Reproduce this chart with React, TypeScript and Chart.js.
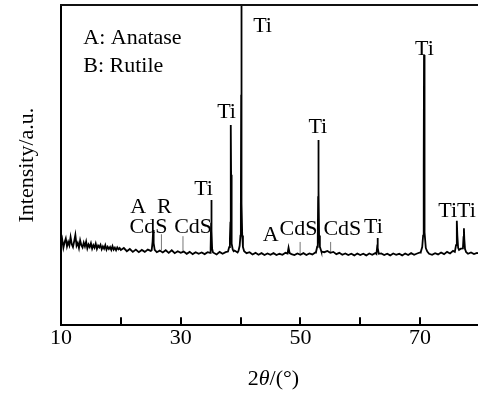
import React, { useEffect, useRef } from "react";
import { Chart, registerables } from "chart.js";

Chart.register(...registerables);

const FONT = '"Liberation Serif", "Times New Roman", serif';

// noisy start of the scan, one value every 0.2 degree from 10 to 20 degrees
const START_A = 10;
const STEP_A = 0.2;
const scanStart = [
  25.0, 26.8, 24.2, 25.9, 27.1, 24.6, 26.0, 24.9, 27.5, 25.3,
  24.4, 26.2, 28.2, 24.8, 25.7, 24.1, 26.5, 25.0, 24.3, 25.8,
  24.6, 26.1, 24.0, 25.2, 24.4, 25.6, 23.9, 25.0, 24.2, 25.5,
  23.8, 24.9, 24.3, 25.1, 23.7, 24.6, 23.9, 25.0, 23.6, 24.5,
  23.8, 24.4, 23.5, 24.7, 23.6, 24.2, 23.4, 24.3, 23.7, 24.1,
  23.5,
];

// rest of the scan baseline, one value every 0.5 degree from 20.5 to 80 degrees
const START_B = 20.5;
const STEP_B = 0.5;
const scanRest = [
  24.1, 23.1, 23.8, 22.9, 23.6, 22.8, 23.5, 22.9, 23.6,
  23.2, 23.4, 22.8, 23.3, 22.7, 23.4, 22.6, 23.4, 22.5, 23.1,
  22.6, 23.0, 22.3, 22.9, 22.2, 22.8, 22.3, 22.7, 22.2, 22.8,
  22.5, 22.7, 22.1, 22.9, 22.3, 22.8, 23.0, 23.2, 23.3, 22.7,
  23.0, 23.1, 22.5, 22.8, 22.1, 22.6, 22.0, 22.5, 21.9, 22.4,
  22.0, 22.5, 21.9, 22.3, 22.0, 22.6, 22.4, 22.2, 21.9, 22.4,
  22.0, 22.5, 21.9, 22.4, 22.1, 22.7, 22.9, 23.0, 22.8, 23.2,
  22.6, 22.9, 22.2, 22.6, 22.0, 22.4, 21.9, 22.3, 21.8, 22.4,
  21.9, 22.3, 21.8, 22.4, 22.0, 22.5, 22.3, 22.4, 21.9, 22.3,
  21.8, 22.4, 22.0, 22.3, 21.8, 22.4, 21.9, 22.5, 22.0, 22.4,
  22.7, 22.9, 22.8, 22.3, 22.0, 22.5, 22.1, 22.7, 22.2, 22.9,
  22.4, 23.2, 22.8, 22.9, 22.7, 22.8, 22.3, 22.7, 22.2, 22.6,
  22.3,
];

// diffraction peaks: [2theta, intensity]
const anatasePeak = [[25.15, 23.4], [25.3, 26.0], [25.4, 29.7], [25.48, 25.6], [25.65, 23.5]];
const ti35Peak = [[34.9, 22.6], [35.0, 24.2], [35.08, 32.0], [35.12, 39.1], [35.17, 29.5], [35.25, 23.9], [35.4, 22.7]];
const ti38Peak = [[37.9, 23.0], [38.1, 24.4], [38.22, 27.0], [38.3, 32.0], [38.35, 52.0], [38.38, 62.5], [38.42, 47.0], [38.47, 30.0], [38.55, 25.5], [38.7, 23.6], [38.85, 23.1]];
const ti40Peak = [[39.65, 23.2], [39.85, 24.8], [39.98, 28.0], [40.05, 36.0], [40.1, 72.0], [40.12, 100.0], [40.16, 70.0], [40.2, 38.0], [40.28, 28.0], [40.4, 24.4], [40.6, 23.1]];
const anatase48Peak = [[47.85, 22.4], [48.02, 24.2], [48.2, 22.5]];
const ti53Peak = [[52.6, 22.8], [52.8, 24.5], [52.9, 27.5], [52.96, 40.0], [53.0, 57.8], [53.05, 42.0], [53.12, 28.0], [53.25, 24.5], [53.45, 23.3]];
const ti63Peak = [[62.7, 22.2], [62.82, 24.4], [62.88, 27.2], [62.95, 24.1], [63.1, 22.3]];
const ti70Peak = [[70.1, 22.8], [70.35, 24.4], [70.5, 28.0], [70.6, 50.0], [70.65, 84.4], [70.7, 55.0], [70.78, 29.0], [70.95, 24.1], [71.2, 23.0]];
const ti76Peaks = [[75.8, 22.9], [76.0, 25.0], [76.1, 29.0], [76.16, 32.6], [76.22, 28.0], [76.35, 24.2], [76.5, 23.5], [76.8, 23.9], [77.15, 24.0], [77.25, 27.5], [77.32, 30.3], [77.38, 27.0], [77.5, 23.8], [77.7, 22.8]];

const peaks = [anatasePeak, ti35Peak, ti38Peak, ti40Peak, anatase48Peak, ti53Peak, ti63Peak, ti70Peak, ti76Peaks];

// thin reference lines under labels: [2theta, bottom, top]
const markerLines = [[26.78, 23.4, 28.4], [30.38, 22.9, 27.8], [49.95, 22.3, 26.0], [55.05, 22.8, 26.0]];

// phase labels: text, left 2theta, baseline intensity
const labelTexts = ["A: Anatase", "B: Rutile", "Ti", "Ti", "Ti", "A", "R", "CdS", "CdS", "A", "CdS", "CdS", "Ti", "TiTi", "Ti", "Ti"];
const labelAngles = [13.72, 13.72, 42.1, 36.09, 32.25, 21.57, 26.03, 21.45, 28.91, 43.72, 46.5, 53.84, 60.63, 73.04, 51.34, 69.15];
const labelLevels = [87.8, 79.2, 91.7, 64.7, 40.6, 35.1, 35.1, 28.7, 28.7, 26.3, 28.1, 28.1, 28.7, 33.8, 59.9, 84.4];

const xTickLabels = [10, 30, 50, 70];
const X_MIN = 10;
const X_MAX = 79.67;

function buildScan() {
  const pts: { x: number; y: number }[] = [];
  const inPeak = (x: number) => peaks.some((p) => x >= p[0][0] && x <= p[p.length - 1][0]);
  scanStart.forEach((v, i) => {
    const x = START_A + i * STEP_A;
    if (!inPeak(x)) pts.push({ x, y: v });
  });
  scanRest.forEach((v, i) => {
    const x = START_B + i * STEP_B;
    if (!inPeak(x)) pts.push({ x, y: v });
  });
  peaks.forEach((p) => p.forEach(([x, y]) => pts.push({ x, y })));
  pts.sort((a, b) => a.x - b.x);
  return pts;
}

function buildMarkers() {
  const pts: { x: number; y: number | null }[] = [];
  markerLines.forEach(([x, y0, y1]) => {
    pts.push({ x, y: y0 });
    pts.push({ x, y: y1 });
    pts.push({ x, y: null });
  });
  return pts;
}

const decorPlugin = {
  id: "decor",
  afterDraw(chart: any) {
    const { ctx, chartArea, scales } = chart;
    const xs = scales.x;
    const ys = scales.y;
    ctx.save();
    // top frame line
    ctx.strokeStyle = "#111";
    ctx.lineWidth = 2;
    ctx.beginPath();
    ctx.moveTo(chartArea.left - 1, chartArea.top);
    ctx.lineTo(chartArea.right + 2, chartArea.top);
    ctx.stroke();
    // phase labels
    ctx.fillStyle = "#000";
    ctx.font = `22px ${FONT}`;
    ctx.textAlign = "left";
    ctx.textBaseline = "alphabetic";
    labelTexts.forEach((t, i) => {
      ctx.fillText(t, xs.getPixelForValue(labelAngles[i]), ys.getPixelForValue(labelLevels[i]));
    });
    // x axis title with italic theta
    const parts = [
      { t: "2", f: `22px ${FONT}` },
      { t: "θ", f: `italic 22px ${FONT}` },
      { t: "/(°)", f: `22px ${FONT}` },
    ];
    let total = 0;
    parts.forEach((p) => {
      ctx.font = p.f;
      total += ctx.measureText(p.t).width;
    });
    let x = xs.getPixelForValue(45.5) - total / 2;
    const y = chart.height - 17;
    ctx.textBaseline = "middle";
    parts.forEach((p) => {
      ctx.font = p.f;
      ctx.fillText(p.t, x, y);
      x += ctx.measureText(p.t).width;
    });
    ctx.restore();
  },
};

export default function App() {
  const canvasRef = useRef<HTMLCanvasElement | null>(null);

  useEffect(() => {
    if (!canvasRef.current) return;
    const chart = new Chart(canvasRef.current, {
      type: "line",
      data: {
        datasets: [
          {
            data: buildScan(),
            borderColor: "#000",
            borderWidth: 1.8,
            pointRadius: 0,
            tension: 0,
            fill: false,
          },
          {
            data: buildMarkers(),
            borderColor: "#777",
            borderWidth: 1,
            pointRadius: 0,
            spanGaps: false,
            fill: false,
          },
        ],
      },
      options: {
        responsive: false,
        animation: false,
        layout: { padding: { left: 0, top: 5, right: 0, bottom: 36.8 } },
        plugins: { legend: { display: false }, tooltip: { enabled: false } },
        scales: {
          x: {
            type: "linear",
            min: X_MIN,
            max: X_MAX,
            border: { display: true, color: "#000", width: 2 },
            grid: {
              display: true,
              drawOnChartArea: false,
              drawTicks: true,
              tickLength: -8,
              color: "#000",
              lineWidth: 2,
            },
            ticks: {
              stepSize: 10,
              includeBounds: false,
              autoSkip: false,
              maxRotation: 0,
              padding: 7.8,
              color: "#000",
              font: { size: 22, family: FONT },
              callback: (v: any) => (xTickLabels.includes(Number(v)) ? String(v) : ""),
            },
          },
          y: {
            type: "linear",
            min: 0,
            max: 100,
            border: { display: true, color: "#000", width: 2 },
            grid: { display: false, drawTicks: false },
            ticks: { display: false },
            title: {
              display: true,
              text: "Intensity/a.u.",
              color: "#000",
              font: { size: 22, family: FONT },
              padding: { top: 13.8, bottom: 20.8 },
            },
          },
        },
      },
      plugins: [decorPlugin],
    });
    return () => chart.destroy();
  }, []);

  return (
    <div style={{ position: "fixed", left: 0, top: 0, width: 478, height: 396, background: "#fff" }}>
      <canvas ref={canvasRef} width={478} height={396} style={{ display: "block" }} />
    </div>
  );
}
